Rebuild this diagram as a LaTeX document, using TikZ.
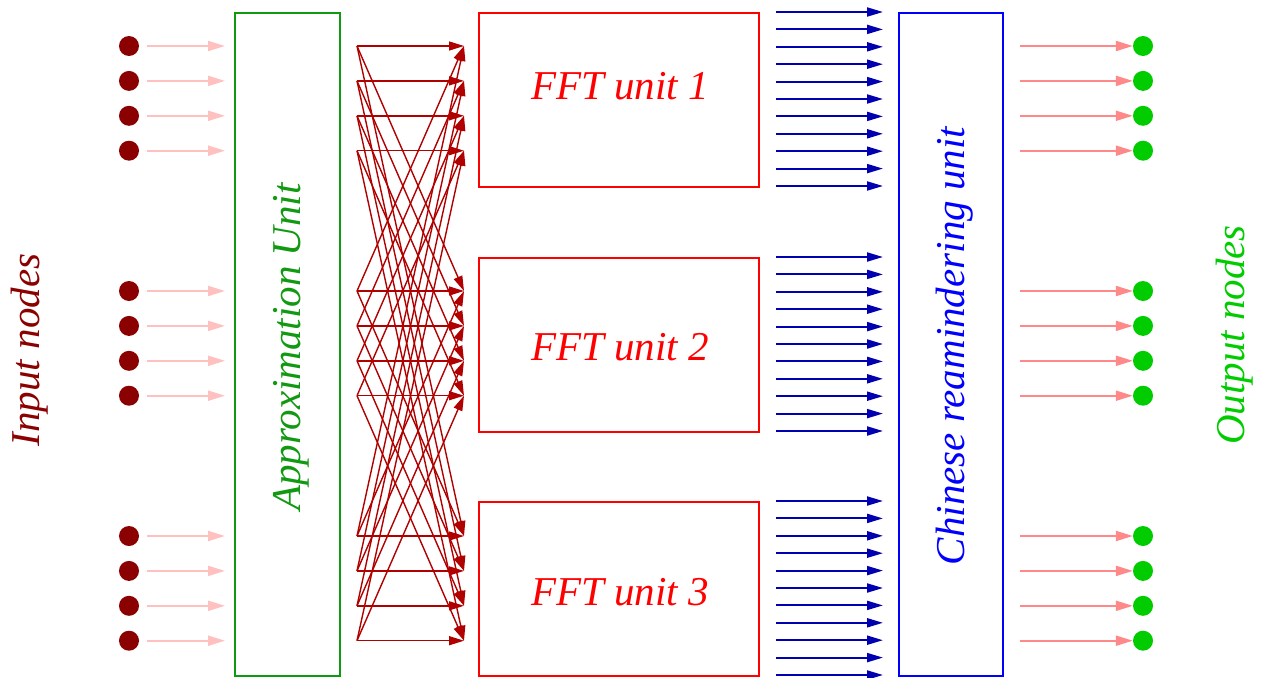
\documentclass[tikz,border=0pt]{standalone}
\usepackage{fontspec}
\setmainfont{Liberation Serif}
\usetikzlibrary{arrows.meta}
\definecolor{indot}{HTML}{8B0000}
\definecolor{outdot}{HTML}{00CC00}
\definecolor{approxgreen}{HTML}{119911}
\definecolor{inarrow}{HTML}{FFC0C0}
\definecolor{outarrow}{HTML}{FF8888}
\definecolor{crossred}{HTML}{B00000}
\definecolor{busblue}{HTML}{0000B0}
\begin{document}
\begin{tikzpicture}[x=1pt,y=-1pt,
  bigtext/.style={font=\fontsize{41}{48}\selectfont\itshape},
  unitbox/.style={draw, line width=1.8pt, anchor=north west, inner sep=0pt},
  dot/.style={circle, inner sep=0pt, minimum size=20pt},
  inarr/.style={draw=inarrow, line width=2pt, -{Triangle[length=17pt,width=10pt]}},
  outarr/.style={draw=outarrow, line width=2pt, -{Triangle[length=17pt,width=10pt]}},
  crossarr/.style={draw=crossred, line width=1.4pt, -{Triangle[length=15pt,width=9pt]}},
  busarr/.style={draw=busblue, line width=2pt, -{Triangle[length=16pt,width=9pt]}}]
\useasboundingbox (0,0) rectangle (1265,677);

% processing blocks
\node[unitbox, draw=approxgreen, minimum width=105pt, minimum height=663pt] (approx) at (234,12) {};
\node[unitbox, draw=red, minimum width=280pt, minimum height=174pt] (fft1) at (478,12) {};
\node[unitbox, draw=red, minimum width=280pt, minimum height=174pt] (fft2) at (478,257) {};
\node[unitbox, draw=red, minimum width=280pt, minimum height=174pt] (fft3) at (478,501) {};
\node[unitbox, draw=blue, minimum width=104pt, minimum height=663pt] (crt) at (898,12) {};

% block labels
\node[bigtext, text=approxgreen, rotate=90] (approxlbl) at (291,347) {Approximation Unit};
\node[bigtext, text=red] (fft1lbl) at (620,86) {FFT unit 1};
\node[bigtext, text=red] (fft2lbl) at (620,347) {FFT unit 2};
\node[bigtext, text=red] (fft3lbl) at (620,592) {FFT unit 3};
\node[bigtext, text=blue, rotate=90] (crtlbl) at (955,346) {Chinese reamindering unit};
\node[bigtext, text=indot, rotate=90] (inlbl) at (30,350) {Input nodes};
\node[bigtext, text=outdot, rotate=90] (outlbl) at (1235,335) {Output nodes};

% input and output nodes, four per group
\foreach \g/\base in {1/46, 2/291, 3/536} {
  \foreach \i in {1,...,4} {
    \pgfmathsetmacro{\yy}{\base+(\i-1)*34.9}
    \node[dot, fill=indot] (in-\g-\i) at (129,\yy) {};
    \coordinate (instart-\g-\i) at (147,\yy);
    \coordinate (inend-\g-\i) at (225,\yy);
    \draw[inarr] (instart-\g-\i) -- (inend-\g-\i);
    \node[dot, fill=outdot] (out-\g-\i) at (1143,\yy) {};
    \coordinate (outstart-\g-\i) at (1020,\yy);
    \draw[outarr] (outstart-\g-\i) -- (out-\g-\i.west);
    \coordinate (src-\g-\i) at (357,\yy);
    \coordinate (dst-\g-\i) at (464,\yy);
  }
}

% interconnect: each approximated line feeds the same line of every FFT unit
\foreach \g in {1,2,3} {
  \foreach \h in {1,2,3} {
    \foreach \i in {1,...,4} {
      \draw[crossarr] (src-\g-\i) -- (dst-\h-\i);
    }
  }
}

% FFT outputs into the remaindering unit
\foreach \u/\base in {1/12, 2/257, 3/501} {
  \foreach \k in {0,...,10} {
    \pgfmathsetmacro{\yy}{\base+\k*17.4}
    \coordinate (busa-\u-\k) at (776,\yy);
    \coordinate (busb-\u-\k) at (883,\yy);
    \draw[busarr] (busa-\u-\k) -- (busb-\u-\k);
  }
}
\end{tikzpicture}
\end{document}
